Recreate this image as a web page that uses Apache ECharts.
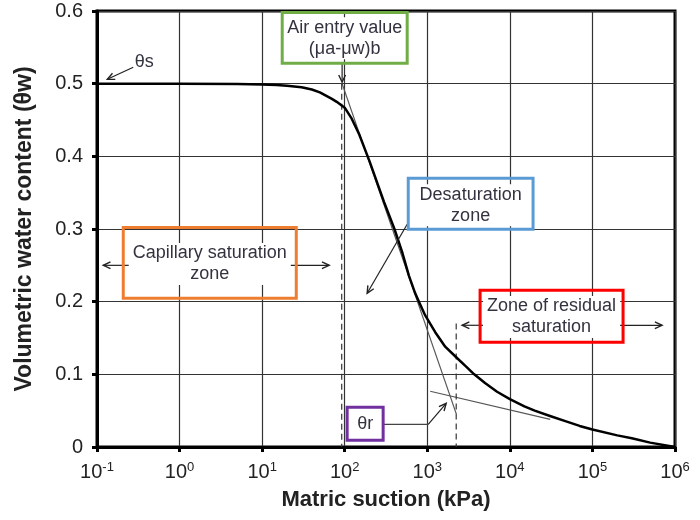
<!DOCTYPE html>
<html><head><meta charset="utf-8">
<script src="https://cdn.jsdelivr.net/npm/echarts@6/dist/echarts.min.js"></script>
<style>html,body{margin:0;padding:0;background:#fff}#c{width:700px;height:520px}</style>
</head><body><div id="c"></div>
<script>
// ---- data ----
const suction      = [0.1, 1, 5, 10, 15, 20, 30, 40, 50, 70, 80, 100, 120, 150, 200, 300, 400, 500, 600, 714, 800, 944, 1248, 1648, 2240, 3000, 3700, 5000, 7000, 10000, 15000, 20000, 30000, 50000, 70000, 100000, 200000, 300000, 500000, 1000000];
const waterContent = [0.5, 0.5, 0.4995, 0.499, 0.498, 0.497, 0.495, 0.492, 0.488, 0.479, 0.475, 0.467, 0.453, 0.43, 0.393, 0.337, 0.300, 0.267, 0.2355, 0.2115, 0.199, 0.181, 0.158, 0.138, 0.1235, 0.110, 0.100, 0.088, 0.076, 0.066, 0.056, 0.050, 0.043, 0.0345, 0.029, 0.024, 0.016, 0.012, 0.006, 0];
const tangentSuction = [93, 2240];
const tangentTheta   = [0.5, 0.046];
const residualSuction = [1084, 30800];
const residualTheta   = [0.0767, 0.0381];
const airEntrySuction = [92, 92];
const airEntryTheta   = [0.5, 0];
const residualLimitSuction = [2240, 2240];
const residualLimitTheta   = [0.170, 0];
const yTickValues = [0, 0.1, 0.2, 0.3, 0.4, 0.5, 0.6];

const FONT = '"Liberation Sans", Arial, sans-serif';
const chart = echarts.init(document.getElementById('c'));
const zip = (a, b) => a.map((v, i) => [v, b[i]]);

chart.setOption({
  animation: false,
  backgroundColor: '#fff',
  grid: { left: 97, right: 25, top: 11, bottom: 73, show: true, borderColor: '#000', borderWidth: 3 },
  xAxis: {
    type: 'log', logBase: 10, min: 0.1, max: 1000000, interval: 1, splitNumber: 7,
    name: 'Matric suction (kPa)', nameLocation: 'middle', nameGap: 42,
    nameTextStyle: { fontFamily: FONT, fontWeight: 'bold', fontSize: 22, color: '#222' },
    axisLine: { lineStyle: { color: '#000', width: 3 } },
    axisTick: { show: true, length: 5, lineStyle: { color: '#000', width: 3 } },
    splitLine: { show: true, lineStyle: { color: '#333', width: 1.2 } },
    axisLabel: {
      margin: 14, color: '#222', fontFamily: FONT,
      formatter: v => '{b|10}{s|' + Math.round(Math.log10(v)) + '}',
      rich: {
        b: { fontSize: 20, fontFamily: FONT, color: '#222' },
        s: { fontSize: 13, fontFamily: FONT, color: '#222', padding: [0, 0, 10, 0] }
      }
    }
  },
  yAxis: {
    type: 'value', min: 0, max: 0.6, interval: 0.1,
    name: 'Volumetric water content (θw)', nameLocation: 'middle', nameGap: 61,
    nameTextStyle: { fontFamily: FONT, fontWeight: 'bold', fontSize: 23, color: '#222' },
    axisLine: { show: true, lineStyle: { color: '#000', width: 3 } },
    axisTick: { show: true, length: 5, lineStyle: { color: '#000', width: 3 } },
    splitLine: { show: true, lineStyle: { color: '#333', width: 1.2 } },
    axisLabel: {
      margin: 14, fontSize: 20, color: '#222', fontFamily: FONT,
      formatter: v => (yTickValues.indexOf(+v.toFixed(1)) >= 0 ? (v === 0 ? '0' : v.toFixed(1)) : '')
    }
  },
  series: [
    { type: 'line', data: zip(tangentSuction, tangentTheta), symbol: 'none', lineStyle: { color: '#555', width: 1.2 }, z: 3 },
    { type: 'line', data: zip(residualSuction, residualTheta), symbol: 'none', lineStyle: { color: '#555', width: 1.2 }, z: 3 },
    { type: 'line', data: zip(airEntrySuction, airEntryTheta), symbol: 'none', lineStyle: { color: '#333', width: 1.2, type: [6, 4] }, z: 3 },
    { type: 'line', data: zip(residualLimitSuction, residualLimitTheta), symbol: 'none', lineStyle: { color: '#333', width: 1.2, type: [6, 4] }, z: 3 },
    { type: 'line', data: zip(suction, waterContent), symbol: 'none', smooth: false, lineStyle: { color: '#000', width: 2.5, join: 'round' }, z: 4 }
  ]
});

// ---- annotations in data coordinates ----
const boxes = [
  { x0: 17.5, x1: 571, y0: 0.598, y1: 0.528, color: '#70AD47' },
  { x0: 588, x1: 19100, y0: 0.370, y1: 0.2996, color: '#5B9BD5' },
  { x0: 0.208, x1: 25.9, y0: 0.302, y1: 0.2046, color: '#ED7D31' },
  { x0: 4360, x1: 235000, y0: 0.2156, y1: 0.1441, color: '#FF0000' },
  { x0: 107, x1: 292, y0: 0.0546, y1: 0.0092, color: '#7030A0' }
];
const texts = [
  { x: 100, y: 0.5625, text: 'Air entry value\n(μa-μw)b' },
  { x: 3350, y: 0.3326, text: 'Desaturation\nzone' },
  { x: 2.32, y: 0.252, text: 'Capillary saturation\nzone' },
  { x: 32000, y: 0.179, text: 'Zone of residual\nsaturation' },
  { x: 177, y: 0.0312, text: 'θr' },
  { x: 0.374, y: 0.5294, text: 'θs', nobg: true }
];
const arrows = [
  { from: [0.275, 0.5225], to: [0.1333, 0.506] },
  { from: [93, 0.528], to: [93, 0.502] },
  { from: [571, 0.3065], to: [187, 0.2115] },
  { from: [0.253, 0.250], to: [0.119, 0.250] },
  { from: [20.7, 0.250], to: [64.9, 0.250] },
  { from: [5300, 0.1675], to: [2640, 0.1675] },
  { from: [205000, 0.1675], to: [698000, 0.1675] },
  { from: [1026, 0.0312], to: [1694, 0.0601] }
];
const plainLines = [
  { from: [292, 0.0312], to: [1026, 0.0312] }
];

function px(p) { return chart.convertToPixel({ xAxisIndex: 0, yAxisIndex: 0 }, p); }
const g = [];
plainLines.forEach(l => {
  const a = px(l.from), b = px(l.to);
  g.push({ type: 'line', z: 100, shape: { x1: a[0], y1: a[1], x2: b[0], y2: b[1] }, style: { stroke: '#444', lineWidth: 1.2 } });
});
arrows.forEach(l => {
  const a = px(l.from), b = px(l.to);
  const ang = Math.atan2(b[1] - a[1], b[0] - a[0]);
  const L = 8, phi = 25 * Math.PI / 180;
  const h1 = [b[0] - L * Math.cos(ang - phi), b[1] - L * Math.sin(ang - phi)];
  const h2 = [b[0] - L * Math.cos(ang + phi), b[1] - L * Math.sin(ang + phi)];
  g.push({ type: 'line', z: 100, shape: { x1: a[0], y1: a[1], x2: b[0], y2: b[1] }, style: { stroke: '#222', lineWidth: 1.2 } });
  g.push({ type: 'polyline', z: 100, shape: { points: [h1, b, h2] }, style: { stroke: '#222', fill: null, lineWidth: 1.4 } });
});
texts.forEach(t => {
  const p = px([t.x, t.y]);
  g.push({ type: 'text', z: 101, x: p[0], y: p[1], style: {
    text: t.text, font: '18px ' + FONT, fill: '#333340', align: 'center', verticalAlign: 'middle',
    lineHeight: 21, backgroundColor: t.nobg ? null : '#fff', padding: t.nobg ? 0 : [0, 4]
  } });
});
boxes.forEach(b => {
  const a = px([b.x0, b.y0]), c = px([b.x1, b.y1]);
  g.push({ type: 'rect', z: 102, shape: { x: a[0], y: a[1], width: c[0] - a[0], height: c[1] - a[1] }, style: { fill: null, stroke: b.color, lineWidth: 3 } });
});
chart.setOption({ graphic: g });
</script></body></html>
